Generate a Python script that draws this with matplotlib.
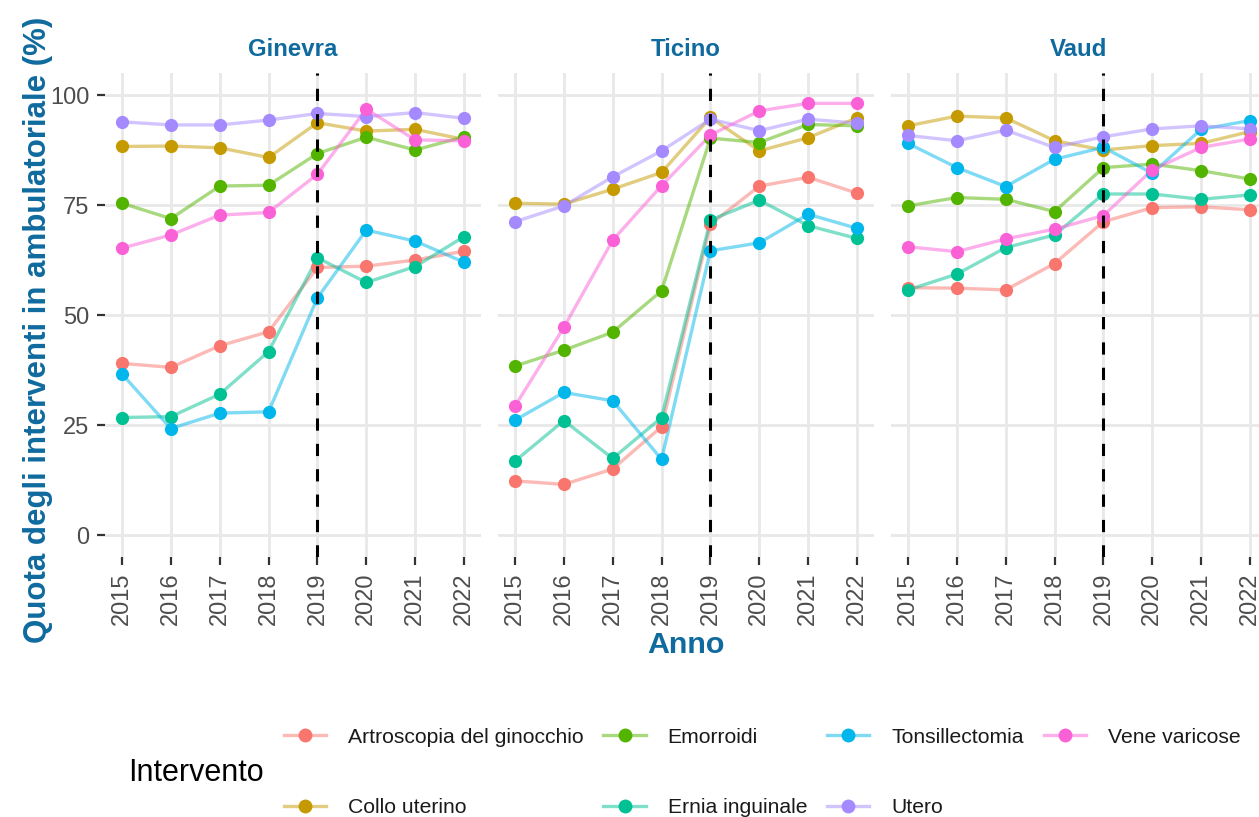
import matplotlib
matplotlib.use("Agg")
import matplotlib.pyplot as plt
from matplotlib.lines import Line2D

plt.rcParams['font.family'] = ['Liberation Sans', 'DejaVu Sans']

anni = [2015, 2016, 2017, 2018, 2019, 2020, 2021, 2022]
cantoni = ["Ginevra", "Ticino", "Vaud"]
interventi = ["Artroscopia del ginocchio", "Collo uterino", "Emorroidi",
              "Ernia inguinale", "Tonsillectomia", "Utero", "Vene varicose"]
colori = ["#F8766D", "#C49A00", "#53B400", "#00C094", "#00B6EB", "#A58AFF", "#FB61D7"]

# quota (%) per intervento, un elenco per cantone
ginevra = {
    "Artroscopia del ginocchio": [39.0, 38.1, 43.0, 46.2, 60.8, 61.1, 62.5, 64.5],
    "Collo uterino": [88.3, 88.4, 88.0, 85.8, 93.7, 91.8, 92.2, 89.9],
    "Emorroidi": [75.4, 71.9, 79.3, 79.5, 86.7, 90.4, 87.5, 90.5],
    "Ernia inguinale": [26.7, 26.9, 32.0, 41.7, 63.0, 57.4, 61.0, 67.8],
    "Tonsillectomia": [36.6, 24.2, 27.7, 28.0, 53.9, 69.3, 66.8, 62.0],
    "Utero": [93.9, 93.2, 93.2, 94.3, 95.8, 95.1, 96.0, 94.7],
    "Vene varicose": [65.2, 68.2, 72.7, 73.3, 82.0, 96.8, 89.8, 89.6],
}
ticino = {
    "Artroscopia del ginocchio": [12.3, 11.5, 15.0, 24.6, 70.6, 79.3, 81.3, 77.7],
    "Collo uterino": [75.4, 75.2, 78.6, 82.4, 94.9, 87.3, 90.3, 94.8],
    "Emorroidi": [38.4, 42.0, 46.1, 55.5, 90.2, 89.2, 93.3, 93.0],
    "Ernia inguinale": [16.8, 26.0, 17.4, 26.7, 71.6, 76.1, 70.3, 67.4],
    "Tonsillectomia": [26.1, 32.4, 30.5, 17.2, 64.6, 66.4, 72.9, 69.7],
    "Utero": [71.2, 74.8, 81.4, 87.3, 94.5, 91.9, 94.5, 93.6],
    "Vene varicose": [29.3, 47.2, 67.0, 79.4, 90.9, 96.4, 98.1, 98.1],
}
vaud = {
    "Artroscopia del ginocchio": [56.2, 56.1, 55.7, 61.7, 71.2, 74.4, 74.6, 73.9],
    "Collo uterino": [93.0, 95.2, 94.8, 89.6, 87.5, 88.5, 89.0, 91.7],
    "Emorroidi": [74.8, 76.7, 76.3, 73.5, 83.5, 84.3, 82.8, 80.9],
    "Ernia inguinale": [55.7, 59.3, 65.3, 68.2, 77.5, 77.5, 76.3, 77.3],
    "Tonsillectomia": [89.0, 83.5, 79.2, 85.4, 88.1, 82.2, 92.2, 94.2],
    "Utero": [90.8, 89.6, 92.0, 88.1, 90.5, 92.3, 93.0, 92.3],
    "Vene varicose": [65.5, 64.4, 67.3, 69.5, 72.6, 83.0, 88.1, 90.0],
}
dati = [ginevra, ticino, vaud]

blu = "#0F6A9E"
grigio = "#4D4D4D"

fig = plt.figure(figsize=(12.59, 8.17), dpi=100)
W, H = 1259, 817
lefts = [104.9, 497.9, 890.9]
pw = 376.2
top, bottom = 73, 557

for i, (nome, d) in enumerate(zip(cantoni, dati)):
    ax = fig.add_axes([lefts[i] / W, (H - bottom) / H, pw / W, (bottom - top) / H])
    for s in ax.spines.values():
        s.set_visible(False)
    ax.grid(True, color="#E8E8E8", lw=2.0)
    ax.set_axisbelow(True)
    ax.set_xlim(2014.65, 2022.35)
    ax.set_ylim(-5, 105)
    ax.set_xticks(anni)
    ax.set_xticklabels([str(a) for a in anni], rotation=90)
    ax.set_yticks([0, 25, 50, 75, 100])
    ax.tick_params(axis="both", colors="#333333", labelcolor=grigio,
                   labelsize=17, length=6, width=1.6, pad=5)
    if i > 0:
        ax.tick_params(axis="y", left=False, labelleft=False)
    for k, interv in enumerate(interventi):
        ax.plot(anni, d[interv], color=colori[k], lw=2.4, alpha=0.5, zorder=3)
        ax.plot(anni, d[interv], "o", color=colori[k], ms=9.5, mec="none", zorder=4)
    ax.axvline(2019, color="black", lw=2.2, ls=(0, (4, 4.3)), zorder=5)
    ax.text(0.5, 1 + 23 / (bottom - top), nome, transform=ax.transAxes,
            ha="center", va="center", fontsize=17.3, fontweight="bold", color=blu)

fig.text(686 / W, 1 - 645 / H, "Anno", ha="center", va="center",
         fontsize=21.9, fontweight="bold", color=blu)
fig.text(38 / W, 1 - 330 / H, "Quota degli interventi in ambulatoriale (%)",
         ha="center", va="center", rotation=90, fontsize=22.5,
         fontweight="bold", color=blu)

handles = []
for c in colori:
    linea = Line2D([], [], color=c, lw=2.4, alpha=0.5)
    punto = Line2D([], [], color=c, lw=0, marker="o", ms=10, mec="none")
    handles.append((linea, punto))
leg = fig.legend(handles, interventi, ncol=4, loc="center left",
                 bbox_to_anchor=(273 / W, 1 - 772.5 / H), frameon=False,
                 fontsize=15.2, handlelength=2.0, handletextpad=1.04,
                 columnspacing=0.95, labelspacing=2.46, borderpad=0)
for t in leg.get_texts():
    t.set_color("#1A1A1A")
fig.text(128 / W, 1 - 773 / H, "Intervento", ha="left", va="center",
         fontsize=22, color="black")

fig.savefig("out.png", dpi=100)
